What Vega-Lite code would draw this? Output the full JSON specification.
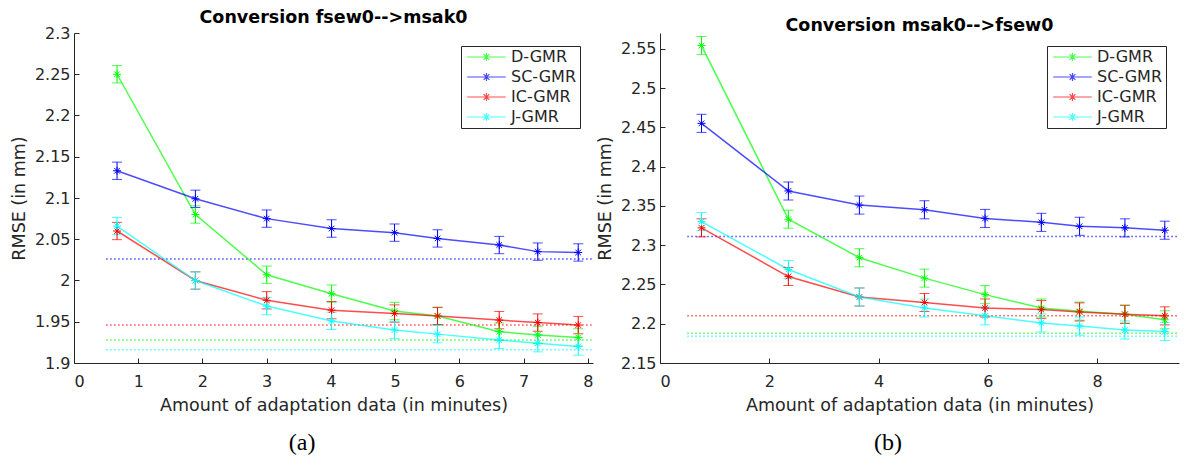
{
  "$schema": "https://vega.github.io/schema/vega-lite/v6.json",
  "background": "white",
  "padding": {"left": 10, "top": 8, "right": 0, "bottom": 0},
  "spacing": 2,
  "datasets": {
    "pts": [
      {"p":"a","s":"D-GMR","x":0.67,"y":2.250,"lo":2.2395,"hi":2.2605},
      {"p":"a","s":"D-GMR","x":1.89,"y":2.080,"lo":2.0695,"hi":2.0905},
      {"p":"a","s":"D-GMR","x":3.0,"y":2.007,"lo":1.9965,"hi":2.0175},
      {"p":"a","s":"D-GMR","x":4.01,"y":1.984,"lo":1.9735,"hi":1.9945},
      {"p":"a","s":"D-GMR","x":4.99,"y":1.963,"lo":1.9525,"hi":1.9735},
      {"p":"a","s":"D-GMR","x":5.66,"y":1.957,"lo":1.9465,"hi":1.9675},
      {"p":"a","s":"D-GMR","x":6.62,"y":1.938,"lo":1.9275,"hi":1.9485},
      {"p":"a","s":"D-GMR","x":7.22,"y":1.934,"lo":1.9235,"hi":1.9445},
      {"p":"a","s":"D-GMR","x":7.85,"y":1.931,"lo":1.9205,"hi":1.9415},
      {"p":"a","s":"SC-GMR","x":0.67,"y":2.133,"lo":2.1225,"hi":2.1435},
      {"p":"a","s":"SC-GMR","x":1.89,"y":2.099,"lo":2.0885,"hi":2.1095},
      {"p":"a","s":"SC-GMR","x":3.0,"y":2.075,"lo":2.0645,"hi":2.0855},
      {"p":"a","s":"SC-GMR","x":4.01,"y":2.063,"lo":2.0525,"hi":2.0735},
      {"p":"a","s":"SC-GMR","x":4.99,"y":2.058,"lo":2.0475,"hi":2.0685},
      {"p":"a","s":"SC-GMR","x":5.66,"y":2.051,"lo":2.0405,"hi":2.0615},
      {"p":"a","s":"SC-GMR","x":6.62,"y":2.043,"lo":2.0325,"hi":2.0535},
      {"p":"a","s":"SC-GMR","x":7.22,"y":2.035,"lo":2.0245,"hi":2.0455},
      {"p":"a","s":"SC-GMR","x":7.85,"y":2.034,"lo":2.0235,"hi":2.0445},
      {"p":"a","s":"IC-GMR","x":0.67,"y":2.060,"lo":2.0495,"hi":2.0705},
      {"p":"a","s":"IC-GMR","x":1.89,"y":2.000,"lo":1.9895,"hi":2.0105},
      {"p":"a","s":"IC-GMR","x":3.0,"y":1.976,"lo":1.9655,"hi":1.9865},
      {"p":"a","s":"IC-GMR","x":4.01,"y":1.964,"lo":1.9535,"hi":1.9745},
      {"p":"a","s":"IC-GMR","x":4.99,"y":1.960,"lo":1.9495,"hi":1.9705},
      {"p":"a","s":"IC-GMR","x":5.66,"y":1.957,"lo":1.9465,"hi":1.9675},
      {"p":"a","s":"IC-GMR","x":6.62,"y":1.952,"lo":1.9415,"hi":1.9625},
      {"p":"a","s":"IC-GMR","x":7.22,"y":1.949,"lo":1.9385,"hi":1.9595},
      {"p":"a","s":"IC-GMR","x":7.85,"y":1.946,"lo":1.9355,"hi":1.9565},
      {"p":"a","s":"J-GMR","x":0.67,"y":2.066,"lo":2.0555,"hi":2.0765},
      {"p":"a","s":"J-GMR","x":1.89,"y":2.000,"lo":1.9895,"hi":2.0105},
      {"p":"a","s":"J-GMR","x":3.0,"y":1.969,"lo":1.9585,"hi":1.9795},
      {"p":"a","s":"J-GMR","x":4.01,"y":1.951,"lo":1.9405,"hi":1.9615},
      {"p":"a","s":"J-GMR","x":4.99,"y":1.940,"lo":1.9295,"hi":1.9505},
      {"p":"a","s":"J-GMR","x":5.66,"y":1.935,"lo":1.9245,"hi":1.9455},
      {"p":"a","s":"J-GMR","x":6.62,"y":1.928,"lo":1.9175,"hi":1.9385},
      {"p":"a","s":"J-GMR","x":7.22,"y":1.924,"lo":1.9135,"hi":1.9345},
      {"p":"a","s":"J-GMR","x":7.85,"y":1.920,"lo":1.9095,"hi":1.9305},
      {"p":"b","s":"D-GMR","x":0.76,"y":2.554,"lo":2.5425,"hi":2.5655},
      {"p":"b","s":"D-GMR","x":2.35,"y":2.333,"lo":2.3215,"hi":2.3445},
      {"p":"b","s":"D-GMR","x":3.65,"y":2.284,"lo":2.2725,"hi":2.2955},
      {"p":"b","s":"D-GMR","x":4.84,"y":2.258,"lo":2.2465,"hi":2.2695},
      {"p":"b","s":"D-GMR","x":5.95,"y":2.237,"lo":2.2255,"hi":2.2485},
      {"p":"b","s":"D-GMR","x":6.98,"y":2.220,"lo":2.2085,"hi":2.2315},
      {"p":"b","s":"D-GMR","x":7.68,"y":2.216,"lo":2.2045,"hi":2.2275},
      {"p":"b","s":"D-GMR","x":8.51,"y":2.212,"lo":2.2005,"hi":2.2235},
      {"p":"b","s":"D-GMR","x":9.24,"y":2.205,"lo":2.1935,"hi":2.2165},
      {"p":"b","s":"SC-GMR","x":0.76,"y":2.455,"lo":2.4435,"hi":2.4665},
      {"p":"b","s":"SC-GMR","x":2.35,"y":2.369,"lo":2.3575,"hi":2.3805},
      {"p":"b","s":"SC-GMR","x":3.65,"y":2.351,"lo":2.3395,"hi":2.3625},
      {"p":"b","s":"SC-GMR","x":4.84,"y":2.345,"lo":2.3335,"hi":2.3565},
      {"p":"b","s":"SC-GMR","x":5.95,"y":2.334,"lo":2.3225,"hi":2.3455},
      {"p":"b","s":"SC-GMR","x":6.98,"y":2.329,"lo":2.3175,"hi":2.3405},
      {"p":"b","s":"SC-GMR","x":7.68,"y":2.324,"lo":2.3125,"hi":2.3355},
      {"p":"b","s":"SC-GMR","x":8.51,"y":2.322,"lo":2.3105,"hi":2.3335},
      {"p":"b","s":"SC-GMR","x":9.24,"y":2.319,"lo":2.3075,"hi":2.3305},
      {"p":"b","s":"IC-GMR","x":0.76,"y":2.322,"lo":2.3105,"hi":2.3335},
      {"p":"b","s":"IC-GMR","x":2.35,"y":2.260,"lo":2.2485,"hi":2.2715},
      {"p":"b","s":"IC-GMR","x":3.65,"y":2.234,"lo":2.2225,"hi":2.2455},
      {"p":"b","s":"IC-GMR","x":4.84,"y":2.227,"lo":2.2155,"hi":2.2385},
      {"p":"b","s":"IC-GMR","x":5.95,"y":2.220,"lo":2.2085,"hi":2.2315},
      {"p":"b","s":"IC-GMR","x":6.98,"y":2.218,"lo":2.2065,"hi":2.2295},
      {"p":"b","s":"IC-GMR","x":7.68,"y":2.215,"lo":2.2035,"hi":2.2265},
      {"p":"b","s":"IC-GMR","x":8.51,"y":2.212,"lo":2.2005,"hi":2.2235},
      {"p":"b","s":"IC-GMR","x":9.24,"y":2.210,"lo":2.1985,"hi":2.2215},
      {"p":"b","s":"J-GMR","x":0.76,"y":2.330,"lo":2.3185,"hi":2.3415},
      {"p":"b","s":"J-GMR","x":2.35,"y":2.269,"lo":2.2575,"hi":2.2805},
      {"p":"b","s":"J-GMR","x":3.65,"y":2.234,"lo":2.2225,"hi":2.2455},
      {"p":"b","s":"J-GMR","x":4.84,"y":2.220,"lo":2.2085,"hi":2.2315},
      {"p":"b","s":"J-GMR","x":5.95,"y":2.210,"lo":2.1985,"hi":2.2215},
      {"p":"b","s":"J-GMR","x":6.98,"y":2.201,"lo":2.1895,"hi":2.2125},
      {"p":"b","s":"J-GMR","x":7.68,"y":2.197,"lo":2.1855,"hi":2.2085},
      {"p":"b","s":"J-GMR","x":8.51,"y":2.192,"lo":2.1805,"hi":2.2035},
      {"p":"b","s":"J-GMR","x":9.24,"y":2.190,"lo":2.1785,"hi":2.2015}
    ],
    "refs": [
      {"p":"a","s":"D-GMR","y":1.928,"x0":0.5,"x1":8.08},
      {"p":"a","s":"SC-GMR","y":2.026,"x0":0.5,"x1":8.08},
      {"p":"a","s":"IC-GMR","y":1.946,"x0":0.5,"x1":8.08},
      {"p":"a","s":"J-GMR","y":1.916,"x0":0.5,"x1":8.08},
      {"p":"b","s":"D-GMR","y":2.188,"x0":0.5,"x1":9.5},
      {"p":"b","s":"SC-GMR","y":2.311,"x0":0.5,"x1":9.5},
      {"p":"b","s":"IC-GMR","y":2.210,"x0":0.5,"x1":9.5},
      {"p":"b","s":"J-GMR","y":2.184,"x0":0.5,"x1":9.5}
    ]
  },
  "hconcat": [
    {
      "title": {"text": "(a)", "orient": "bottom", "font": "Liberation Serif", "fontSize": 24, "fontWeight": "normal", "color": "black", "anchor": "middle", "frame": "bounds", "offset": 17},
      "resolve": {"scale": {"color": "independent"}, "legend": {"color": "independent"}},
      "vconcat": [
        {
          "title": {"text": "Conversion fsew0-->msak0", "font": "DejaVu Sans", "fontSize": 17.5, "fontWeight": "bold", "color": "black", "offset": -1},
          "width": 519,
          "height": 330,
          "encoding": {
            "x": {"field": "x", "type": "quantitative", "title": "Amount of adaptation data (in minutes)", "scale": {"domain": [0, 8.08], "nice": false, "zero": false}, "axis": {"values": [0,1,2,3,4,5,6,7,8], "format": "d", "labelPadding": 15, "titlePadding": 7}},
            "y": {"field": "y", "type": "quantitative", "title": "RMSE (in mm)", "scale": {"domain": [1.9, 2.3], "nice": false, "zero": false}, "axis": {"values": [1.9,1.95,2,2.05,2.1,2.15,2.2,2.25,2.3], "format": "~g", "labelPadding": 9}},
            "color": {"field": "s", "type": "nominal", "scale": {"domain": ["D-GMR","SC-GMR","IC-GMR","J-GMR"], "range": ["#00ff00","#0000ff","#ff0000","#00ffff"]}, "legend": {"orient": "top-right", "offset": 13, "title": null, "strokeColor": "#262626", "fillColor": "white", "padding": 3, "columnPadding": 0, "symbolType": "M-1.7,0M-1,0L7,0M3,-0.85L3,0.85M2.15,0L3.85,0M2.4,-0.6L3.6,0.6M2.4,0.6L3.6,-0.6", "symbolSize": 93, "symbolStrokeWidth": 1.2, "symbolFillColor": "transparent", "symbolOffset": 0, "labelOffset": 31, "labelFont": "DejaVu Sans", "labelFontSize": 16, "labelColor": "#262626", "rowPadding": 4}}
          },
          "layer": [
            {
              "data": {"name": "refs"},
              "transform": [{"filter": "datum.p === 'a'"}],
              "mark": {"type": "rule", "strokeDash": [1.5, 2.5], "strokeWidth": 1.5, "opacity": 0.7},
              "encoding": {"x": {"field": "x0", "type": "quantitative", "title": "Amount of adaptation data (in minutes)"}, "x2": {"field": "x1"}}
            },
            {
              "data": {"name": "pts"},
              "transform": [{"filter": "datum.p === 'a'"}],
              "mark": {"type": "line", "strokeWidth": 1.5, "opacity": 0.7}
            },
            {
              "data": {"name": "pts"},
              "transform": [{"filter": "datum.p === 'a'"}],
              "mark": {"type": "errorbar", "ticks": true, "size": 10, "thickness": 1},
              "encoding": {"y": {"field": "lo", "type": "quantitative", "title": "RMSE (in mm)"}, "y2": {"field": "hi"}}
            },
            {
              "data": {"name": "pts"},
              "transform": [{"filter": "datum.p === 'a'"}],
              "mark": {"type": "point", "shape": "M0,-1L0,1M-1,0L1,0M-0.7,-0.7L0.7,0.7M-0.7,0.7L0.7,-0.7", "size": 64, "filled": false, "strokeWidth": 1, "opacity": 1}
            }
          ]
        }
      ]
    },
    {
      "title": {"text": "(b)", "orient": "bottom", "font": "Liberation Serif", "fontSize": 24, "fontWeight": "normal", "color": "black", "anchor": "middle", "frame": "bounds", "offset": 17},
      "resolve": {"scale": {"color": "independent"}, "legend": {"color": "independent"}},
      "vconcat": [
        {
          "title": {"text": "Conversion msak0-->fsew0", "font": "DejaVu Sans", "fontSize": 17.5, "fontWeight": "bold", "color": "black", "offset": -1},
          "width": 519,
          "height": 330,
          "encoding": {
            "x": {"field": "x", "type": "quantitative", "title": "Amount of adaptation data (in minutes)", "scale": {"domain": [0, 9.5], "nice": false, "zero": false}, "axis": {"values": [0,2,4,6,8], "format": "d", "labelPadding": 15, "titlePadding": 7}},
            "y": {"field": "y", "type": "quantitative", "title": "RMSE (in mm)", "scale": {"domain": [2.15, 2.57], "nice": false, "zero": false}, "axis": {"values": [2.15,2.2,2.25,2.3,2.35,2.4,2.45,2.5,2.55], "format": "~g", "labelPadding": 9}},
            "color": {"field": "s", "type": "nominal", "scale": {"domain": ["D-GMR","SC-GMR","IC-GMR","J-GMR"], "range": ["#00ff00","#0000ff","#ff0000","#00ffff"]}, "legend": {"orient": "top-right", "offset": 13, "title": null, "strokeColor": "#262626", "fillColor": "white", "padding": 3, "columnPadding": 0, "symbolType": "M-1.7,0M-1,0L7,0M3,-0.85L3,0.85M2.15,0L3.85,0M2.4,-0.6L3.6,0.6M2.4,0.6L3.6,-0.6", "symbolSize": 93, "symbolStrokeWidth": 1.2, "symbolFillColor": "transparent", "symbolOffset": 0, "labelOffset": 31, "labelFont": "DejaVu Sans", "labelFontSize": 16, "labelColor": "#262626", "rowPadding": 4}}
          },
          "layer": [
            {
              "data": {"name": "refs"},
              "transform": [{"filter": "datum.p === 'b'"}],
              "mark": {"type": "rule", "strokeDash": [1.5, 2.5], "strokeWidth": 1.5, "opacity": 0.7},
              "encoding": {"x": {"field": "x0", "type": "quantitative", "title": "Amount of adaptation data (in minutes)"}, "x2": {"field": "x1"}}
            },
            {
              "data": {"name": "pts"},
              "transform": [{"filter": "datum.p === 'b'"}],
              "mark": {"type": "line", "strokeWidth": 1.5, "opacity": 0.7}
            },
            {
              "data": {"name": "pts"},
              "transform": [{"filter": "datum.p === 'b'"}],
              "mark": {"type": "errorbar", "ticks": true, "size": 10, "thickness": 1},
              "encoding": {"y": {"field": "lo", "type": "quantitative", "title": "RMSE (in mm)"}, "y2": {"field": "hi"}}
            },
            {
              "data": {"name": "pts"},
              "transform": [{"filter": "datum.p === 'b'"}],
              "mark": {"type": "point", "shape": "M0,-1L0,1M-1,0L1,0M-0.7,-0.7L0.7,0.7M-0.7,0.7L0.7,-0.7", "size": 64, "filled": false, "strokeWidth": 1, "opacity": 1}
            }
          ]
        }
      ]
    }
  ],
  "resolve": {"scale": {"color": "independent"}, "legend": {"color": "independent"}},
  "config": {
    "view": {"stroke": null},
    "axis": {"domainColor": "#262626", "tickColor": "#262626", "labelColor": "#262626", "titleColor": "#262626", "labelFont": "DejaVu Sans", "titleFont": "DejaVu Sans", "labelFontSize": 16, "titleFontSize": 17.5, "titleFontWeight": "normal", "grid": false, "tickSize": -5, "labelPadding": 11, "titlePadding": 6}
  }
}
